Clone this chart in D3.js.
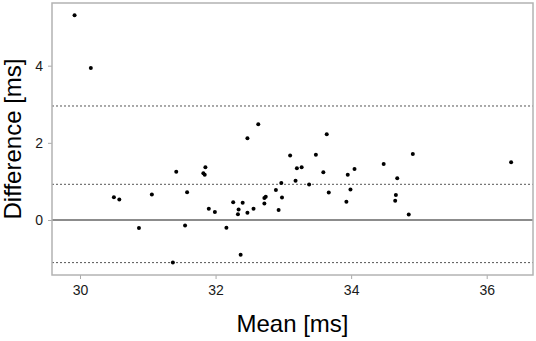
<!DOCTYPE html>
<html>
<head>
<meta charset="utf-8">
<script src="https://cdn.jsdelivr.net/npm/d3@7"></script>
<style>
  html, body { margin: 0; padding: 0; background: #fff; }
  svg { display: block; font-family: "Liberation Sans", Arial, sans-serif; }
</style>
</head>
<body>
<div id="chart"></div>
<script>
// Bland-Altman data: mean vs difference (ms)
const meanValues = [
  29.92, 30.16, 30.50, 30.58, 30.87, 31.06, 31.37, 31.42, 31.55, 31.58,
  31.82, 31.84, 31.85, 31.90, 31.99, 32.16, 32.26, 32.33, 32.34, 32.37,
  32.40, 32.47, 32.47, 32.56, 32.63, 32.72, 32.72, 32.74, 32.89, 32.93,
  32.97, 32.98, 33.10, 33.18, 33.20, 33.27, 33.38, 33.48, 33.59, 33.64,
  33.67, 33.93, 33.95, 33.99, 34.05, 34.48, 34.65, 34.66, 34.68, 34.85,
  34.91, 36.36
];
const diffValues = [
  5.31, 3.94, 0.59, 0.53, -0.21, 0.66, -1.10, 1.25, -0.14, 0.72,
  1.21, 1.17, 1.37, 0.29, 0.21, -0.20, 0.46, 0.15, 0.27, -0.90,
  0.45, 2.12, 0.19, 0.29, 2.48, 0.57, 0.43, 0.60, 0.78, 0.26,
  0.96, 0.58, 1.67, 1.02, 1.34, 1.37, 0.92, 1.69, 1.24, 2.22,
  0.71, 0.47, 1.17, 0.79, 1.32, 1.45, 0.50, 0.65, 1.08, 0.14,
  1.71, 1.50
];
const biasLine = 0.925;
const limitLines = [2.955, -1.105];
const xTicks = [30, 32, 34, 36];
const yTicks = [0, 2, 4];

const points = meanValues.map((m, i) => ({ mean: m, diff: diffValues[i] }));

const W = 536, H = 341;
const margin = { top: 3, right: 3, bottom: 66, left: 52 };
const width = W - margin.left - margin.right;
const height = H - margin.top - margin.bottom;

const svg = d3.select("#chart").append("svg")
  .attr("width", W)
  .attr("height", H);

const g = svg.append("g")
  .attr("transform", `translate(${margin.left},${margin.top})`);

const x = d3.scaleLinear().domain([29.587, 36.683]).range([0, width]);
const y = d3.scaleLinear().domain([-1.426, 5.625]).range([height, 0]);

// reference lines
g.append("line")
  .attr("x1", 0).attr("x2", width)
  .attr("y1", y(0)).attr("y2", y(0))
  .attr("stroke", "#666").attr("stroke-width", 1.3);

g.selectAll(".ref")
  .data([biasLine, ...limitLines])
  .enter().append("line")
  .attr("class", "ref")
  .attr("x1", 0).attr("x2", width)
  .attr("y1", d => y(d)).attr("y2", d => y(d))
  .attr("stroke", "#555")
  .attr("stroke-width", 1)
  .attr("stroke-dasharray", "2,2");

// points
g.selectAll(".dot")
  .data(points)
  .enter().append("circle")
  .attr("class", "dot")
  .attr("cx", d => x(d.mean))
  .attr("cy", d => y(d.diff))
  .attr("r", 2)
  .attr("fill", "#000");

// axes
const xAxis = g.append("g")
  .attr("transform", `translate(0,${height})`)
  .call(d3.axisBottom(x).tickValues(xTicks).tickSize(4).tickPadding(6).tickFormat(d3.format("d")));
const yAxis = g.append("g")
  .call(d3.axisLeft(y).tickValues(yTicks).tickSize(4).tickPadding(5).tickFormat(d3.format("d")));

[xAxis, yAxis].forEach(a => {
  a.select(".domain").remove();
  a.selectAll("line").attr("stroke", "#aaa");
  a.selectAll("text")
    .attr("fill", "#1a1a1a")
    .style("font-size", "14px")
    .style("font-family", "'Liberation Sans', Arial, sans-serif");
});

// panel border
g.append("rect")
  .attr("x", 0).attr("y", 0)
  .attr("width", width).attr("height", height)
  .attr("fill", "none")
  .attr("stroke", "#b3b3b3")
  .attr("stroke-width", 1.5);

// axis titles
svg.append("text")
  .attr("x", margin.left + width / 2)
  .attr("y", 332)
  .attr("text-anchor", "middle")
  .style("font-size", "24px")
  .attr("fill", "#000")
  .text("Mean [ms]");

svg.append("text")
  .attr("transform", `translate(21,${margin.top + height / 2}) rotate(-90)`)
  .attr("text-anchor", "middle")
  .style("font-size", "24px")
  .attr("fill", "#000")
  .text("Difference [ms]");
</script>
</body>
</html>
